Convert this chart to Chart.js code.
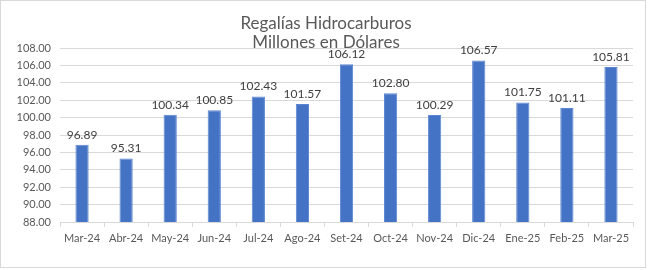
<!DOCTYPE html>
<html>
<head>
<meta charset="utf-8">
<script src="https://cdn.jsdelivr.net/npm/chart.js@4"></script>
<style>
  html, body { margin: 0; padding: 0; background: #fff; }
  #wrap { position: relative; width: 650px; height: 270px; }
</style>
</head>
<body>
<div id="wrap"><canvas id="regalias"></canvas></div>
<script>
// data
const months = ["Mar-24", "Abr-24", "May-24", "Jun-24", "Jul-24", "Ago-24", "Set-24",
    "Oct-24", "Nov-24", "Dic-24", "Ene-25", "Feb-25", "Mar-25"];
const royalties = [96.89, 95.31, 100.34, 100.85, 102.43, 101.57, 106.12,
    102.80, 100.29, 106.57, 101.75, 101.11, 105.81];
const titleLines = ["Regalías Hidrocarburos", "Millones en Dólares"];
const yMin = 88, yMax = 108, yStep = 2;

const FONT = "Lato, 'Open Sans', sans-serif";

// frame, title and value labels on top of the bars
const extras = {
    id: "extras",
    afterDraw(chart) {
        const ctx = chart.ctx;
        ctx.save();
        ctx.strokeStyle = "#d9d9d9";
        ctx.lineWidth = 1;
        ctx.strokeRect(0.5, 0.5, 645, 267);

        ctx.fillStyle = "#595959";
        ctx.font = "17px " + FONT;
        ctx.textAlign = "center";
        ctx.textBaseline = "middle";
        ctx.fillText(titleLines[0], 326, 24);
        ctx.fillText(titleLines[1], 326, 43);

        ctx.fillStyle = "#404040";
        ctx.font = "12px " + FONT;
        ctx.textBaseline = "bottom";
        const meta = chart.getDatasetMeta(0);
        meta.data.forEach((bar, i) => {
            ctx.fillText(royalties[i].toFixed(2), bar.x, bar.y - 4);
        });
        ctx.restore();
    }
};

new Chart(document.getElementById("regalias"), {
    type: "bar",
    data: {
        labels: months,
        datasets: [{
            data: royalties,
            backgroundColor: "#4472c4",
            borderColor: "#5b85d0",
            borderWidth: 1,
            categoryPercentage: 1,
            barPercentage: 0.3
        }]
    },
    options: {
        responsive: true,
        maintainAspectRatio: false,
        animation: false,
        layout: { padding: { top: 48, right: 17, bottom: 0, left: 0 } },
        plugins: {
            legend: { display: false },
            title: { display: false },
            tooltip: { enabled: false }
        },
        scales: {
            x: {
                grid: {
                    offset: true,
                    drawOnChartArea: false,
                    tickLength: 5,
                    color: "#d9d9d9"
                },
                border: { color: "#d9d9d9" },
                ticks: {
                    color: "#595959",
                    font: { family: FONT, size: 11 },
                    padding: 5,
                    maxRotation: 0,
                    autoSkip: false
                },
                afterFit(scale) { scale.height = 48; }
            },
            y: {
                min: yMin,
                max: yMax,
                grid: { color: "#d9d9d9", drawTicks: false },
                border: { display: false },
                ticks: {
                    stepSize: yStep,
                    color: "#595959",
                    font: { family: FONT, size: 11 },
                    padding: 9,
                    callback: v => v.toFixed(2)
                },
                afterFit(scale) { scale.width = 60; }
            }
        }
    },
    plugins: [extras]
});
</script>
</body>
</html>
